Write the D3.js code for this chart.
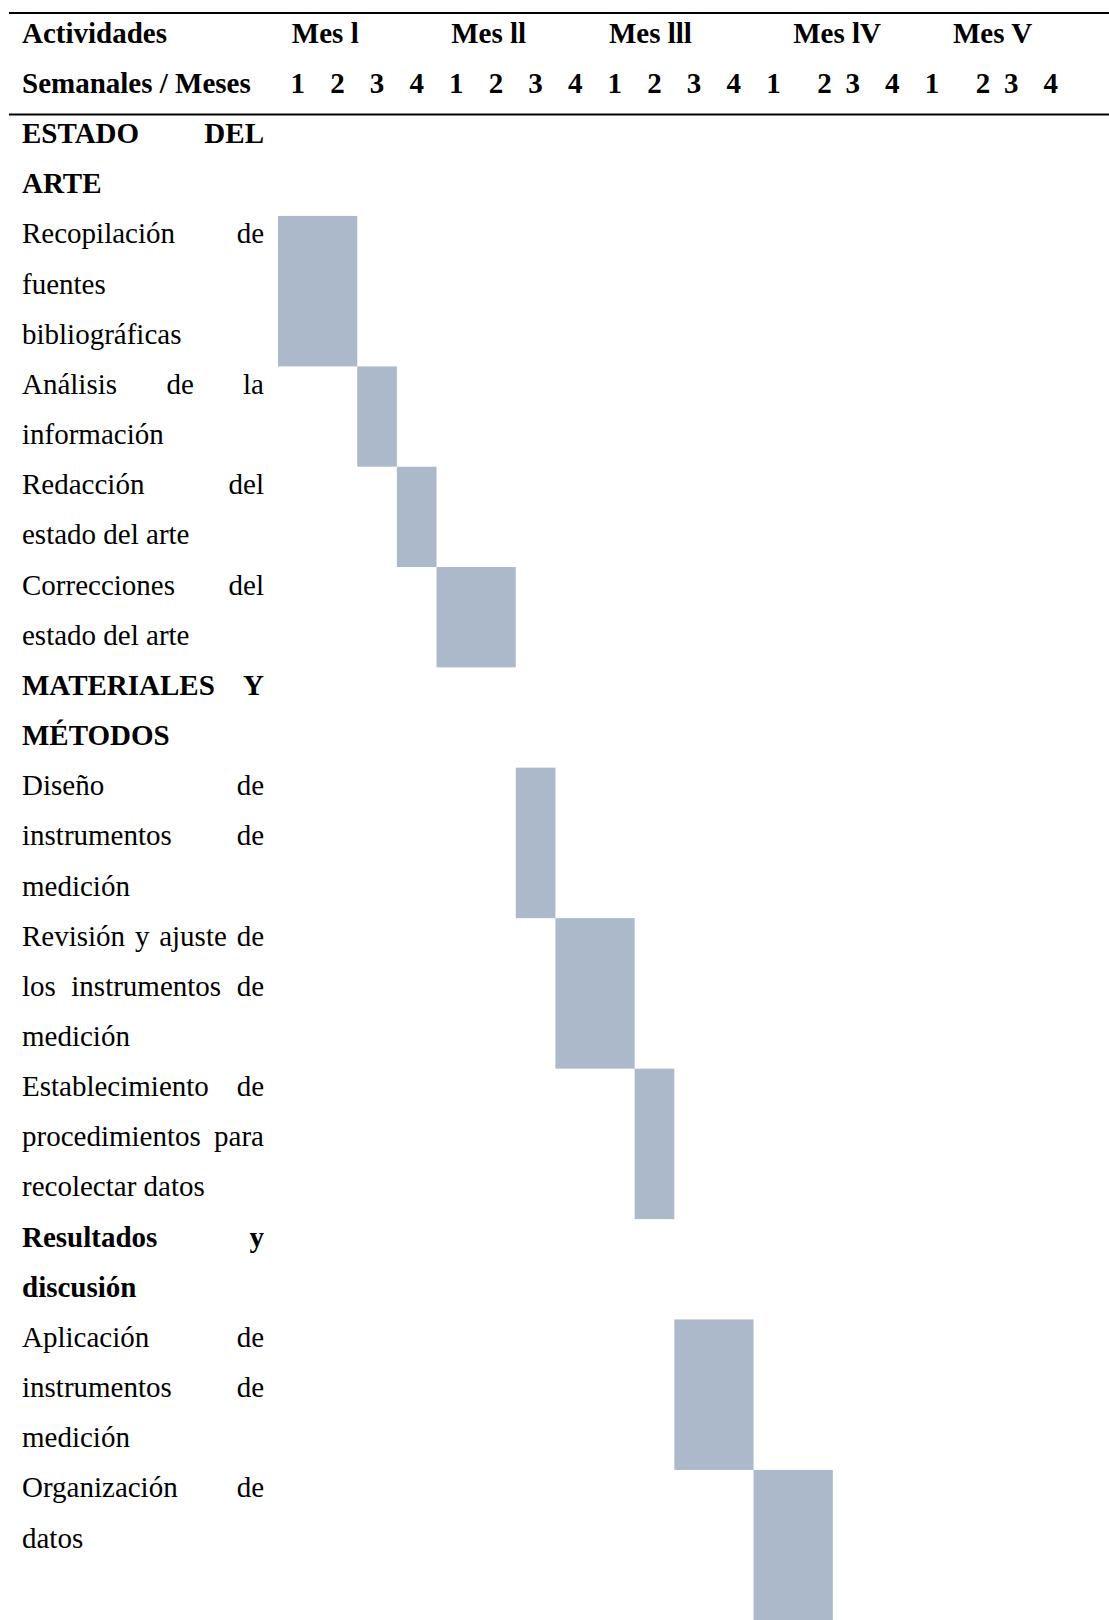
<!DOCTYPE html>
<html>

<head>
    <meta charset="UTF-8">
    <title>Cronograma de actividades</title>
    <style>
        body { margin: 0; background: #fff; }
        svg text { font-family: 'Liberation Serif', 'Times New Roman', serif; font-size: 29px; fill: #000; }
    </style>
</head>

<body>
    <svg></svg>
    <script src="https://d3js.org/d3.v7.min.js"></script>
    <script>
        // header
        const months = ["Mes l", "Mes ll", "Mes lll", "Mes lV", "Mes V"];
        const monthLabelWeek = [0.35, 4.37, 8.35, 13.0, 17.03];
        const weekLabels = ["1", "2", "3", "4", "1", "2", "3", "4", "1", "2", "3", "4", "1", "2", "3", "4", "1", "2", "3", "4"];
        const weekLabelRight = [13, 17];

        // activities (one entry per table row)
        const activityLines = [
            ["ESTADO DEL", "ARTE"],
            ["Recopilación de", "fuentes", "bibliográficas"],
            ["Análisis de la", "información"],
            ["Redacción del", "estado del arte"],
            ["Correcciones del", "estado del arte"],
            ["MATERIALES Y", "MÉTODOS"],
            ["Diseño de", "instrumentos de", "medición"],
            ["Revisión y ajuste de", "los instrumentos de", "medición"],
            ["Establecimiento de", "procedimientos para", "recolectar datos"],
            ["Resultados y", "discusión"],
            ["Aplicación de", "instrumentos de", "medición"],
            ["Organización de", "datos", ""]
        ];
        const isSection = [true, false, false, false, false, true, false, false, false, true, false, false];
        const startWeek = [null, 1, 3, 4, 5, null, 7, 8, 10, null, 11, 13];
        const endWeek = [null, 2, 3, 4, 6, null, 7, 9, 10, null, 12, 14];

        const width = 1109,
            height = 1620;

        const svg = d3.select("svg")
            .attr("width", width)
            .attr("height", height)
            .style("display", "block");

        const labelLeft = 22,
            labelRight = 264;

        // x: weeks, y: text lines (header lines are -2 and -1)
        const x = d3.scaleLinear().domain([0, 20]).range([278, 278 + 20 * 39.63]);
        const lineH = 50.16;
        const y = d3.scaleLinear().domain([0, 1]).range([115.6, 115.6 + lineH]);
        const baseOff = 27.5;

        // flatten rows into lines
        let lines = [];
        let rowStart = [];
        activityLines.forEach((ls, r) => {
            rowStart.push(lines.length);
            ls.forEach((t, i) => {
                lines.push({ text: t, bold: isSection[r], last: i == ls.length - 1 || ls[i + 1] == "" });
            });
        });

        // bars
        svg.append('g')
            .selectAll('rect')
            .data(activityLines.map((ls, r) => ({ r: r, n: ls.length })).filter(d => startWeek[d.r] != null))
            .enter().append('rect')
            .attr('x', d => x(startWeek[d.r] - 1))
            .attr('width', d => x(endWeek[d.r]) - x(startWeek[d.r] - 1))
            .attr('y', d => y(rowStart[d.r]))
            .attr('height', d => y(rowStart[d.r] + d.n) - y(rowStart[d.r]))
            .attr('fill', '#ACB9CA');

        // rules
        svg.append('line')
            .attr('x1', 9).attr('x2', width)
            .attr('y1', 13).attr('y2', 13)
            .attr('stroke', '#000').attr('stroke-width', 2);
        svg.append('line')
            .attr('x1', 9).attr('x2', width)
            .attr('y1', y(0) - 1).attr('y2', y(0) - 1)
            .attr('stroke', '#000').attr('stroke-width', 2);

        // header text
        const head = svg.append('g').style('font-weight', 'bold');
        head.append('text').attr('x', labelLeft).attr('y', y(-2) + baseOff).text("Actividades");
        head.append('text').attr('x', labelLeft).attr('y', y(-1) + baseOff).text("Semanales / Meses");

        head.selectAll('.month')
            .data(months)
            .enter().append('text')
            .attr('class', 'month')
            .attr('x', (d, i) => x(monthLabelWeek[i]))
            .attr('y', y(-2) + baseOff)
            .text(d => d);

        head.selectAll('.week')
            .data(weekLabels)
            .enter().append('text')
            .attr('class', 'week')
            .attr('x', (d, i) => weekLabelRight.includes(i) ? x(i + 1) - 1 : (x(i) + x(i + 1)) / 2)
            .attr('text-anchor', (d, i) => weekLabelRight.includes(i) ? 'end' : 'middle')
            .attr('y', y(-1) + baseOff)
            .text(d => d);

        // activity text, justified like the document
        const body = svg.append('g');
        lines.forEach((l, i) => {
            const words = l.text.split(" ").filter(w => w.length);
            const by = y(i) + baseOff;
            if (l.last || words.length < 2) {
                body.append('text')
                    .attr('x', labelLeft).attr('y', by)
                    .style('font-weight', l.bold ? 'bold' : 'normal')
                    .text(l.text);
                return;
            }
            const els = words.map(w => body.append('text')
                .attr('y', by)
                .style('font-weight', l.bold ? 'bold' : 'normal')
                .text(w));
            const ws = els.map(e => e.node().getComputedTextLength());
            const gap = (labelRight - labelLeft - d3.sum(ws)) / (words.length - 1);
            let cx = labelLeft;
            els.forEach((e, k) => {
                e.attr('x', cx);
                cx += ws[k] + gap;
            });
        });
    </script>
</body>

</html>
